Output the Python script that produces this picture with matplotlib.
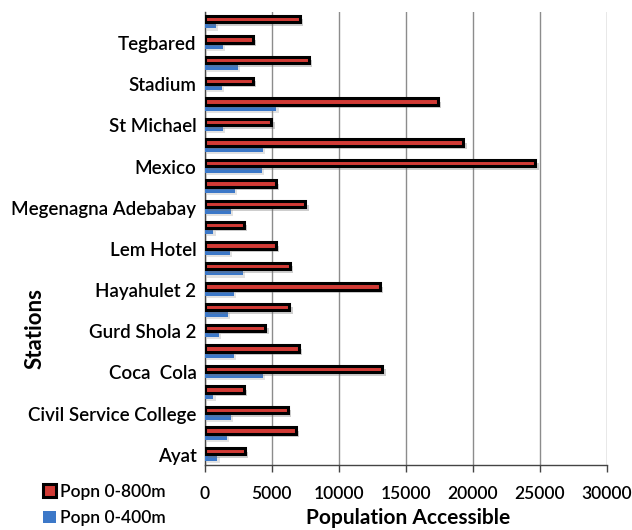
import matplotlib
matplotlib.use("Agg")
import matplotlib.pyplot as plt
import matplotlib.patheffects as pe
from matplotlib.patches import Patch
import numpy as np

plt.rcParams['font.family'] = ['Lato', 'DejaVu Sans']

# Stations, bottom to top
stations = [
    "Ayat", "Ayat Condominium", "Civil Service College", "CMC", "Coca  Cola",
    "Gurd Shola 1", "Gurd Shola 2", "Hayahulet 1", "Hayahulet 2", "Lamberet",
    "Lem Hotel", "Megenagna", "Megenagna Adebabay", "Menelik Square", "Mexico",
    "Sebategna", "St Michael", "St Urael", "Stadium", "Summit", "Tegbared",
    "Tor Hailoch",
]

# Population accessible within 800 m of each station
popn_800 = [3000, 6800, 6200, 2900, 13250, 7000, 4500, 6300, 13050, 6350,
            5300, 2900, 7500, 5300, 24650, 19300, 4950, 17400, 3600, 7750,
            3600, 7100]

# Population accessible within 400 m of each station
popn_400 = [950, 1650, 1950, 650, 4350, 2200, 1050, 1750, 2200, 2850,
            1850, 650, 1950, 2250, 4250, 4350, 1350, 5350, 1250, 2450,
            1350, 850]

x_ticks = [0, 5000, 10000, 15000, 20000, 25000, 30000]

red = "#D23B36"
blue = "#3C78C8"
label_weight = "semibold"

fig = plt.figure(figsize=(6.32, 5.30), dpi=100)
ax = fig.add_axes([0.324, 0.1226, 0.636, 0.8544])

y = np.arange(len(stations))
h_red = 0.31
h_blue = 0.26

bars_blue = ax.barh(y - 0.16, popn_400, height=h_blue, color=blue,
                    edgecolor="none", zorder=3)
bars_red = ax.barh(y + 0.17, popn_800, height=h_red, color=red,
                   edgecolor="black", linewidth=2.2, zorder=4)
for b in bars_red:
    b.set_path_effects([pe.withSimplePatchShadow(offset=(2.5, -2.5),
                                                 shadow_rgbFace="0.45", alpha=0.35)])
for b in bars_blue:
    b.set_path_effects([pe.withSimplePatchShadow(offset=(1.5, -1.5),
                                                 shadow_rgbFace="0.55", alpha=0.25)])

ax.set_xlim(0, 30000)
ax.set_ylim(-0.5, len(stations) - 0.5)
ax.set_xticks(x_ticks)
ax.set_xticklabels([str(t) for t in x_ticks], fontsize=12.5, fontweight=label_weight)

ax.set_yticks(y)
ax.set_yticklabels([s if i % 2 == 0 else "" for i, s in enumerate(stations)],
                   fontsize=13.5, fontweight=label_weight)
ax.tick_params(axis="y", length=0, pad=6)
ax.tick_params(axis="x", length=5, width=1, color="#444444", pad=10, direction="out")

ax.grid(axis="x", color="#8c8c8c", linewidth=1.0, zorder=0)
ax.set_axisbelow(True)
for side in ["top", "right"]:
    ax.spines[side].set_visible(False)
for side in ["left", "bottom"]:
    ax.spines[side].set_color("#444444")
    ax.spines[side].set_linewidth(1.0)

fig.text(0.645, 0.003, "Population Accessible", fontsize=15, fontweight="bold",
         ha="center", va="bottom")
fig.text(0.055, 0.381, "Stations", fontsize=16, fontweight="bold",
         rotation=90, ha="center", va="center")

handles = [Patch(facecolor=red, edgecolor="black", linewidth=2.2),
           Patch(facecolor=blue, edgecolor="none")]
fig.legend(handles, ["Popn 0-800m", "Popn 0-400m"], loc="lower left",
           bbox_to_anchor=(0.043, -0.022), frameon=False,
           prop={"weight": label_weight, "size": 12.5},
           handlelength=0.75, handleheight=0.75, handletextpad=0.25,
           labelspacing=0.6)

fig.savefig("out.png", dpi=100)
